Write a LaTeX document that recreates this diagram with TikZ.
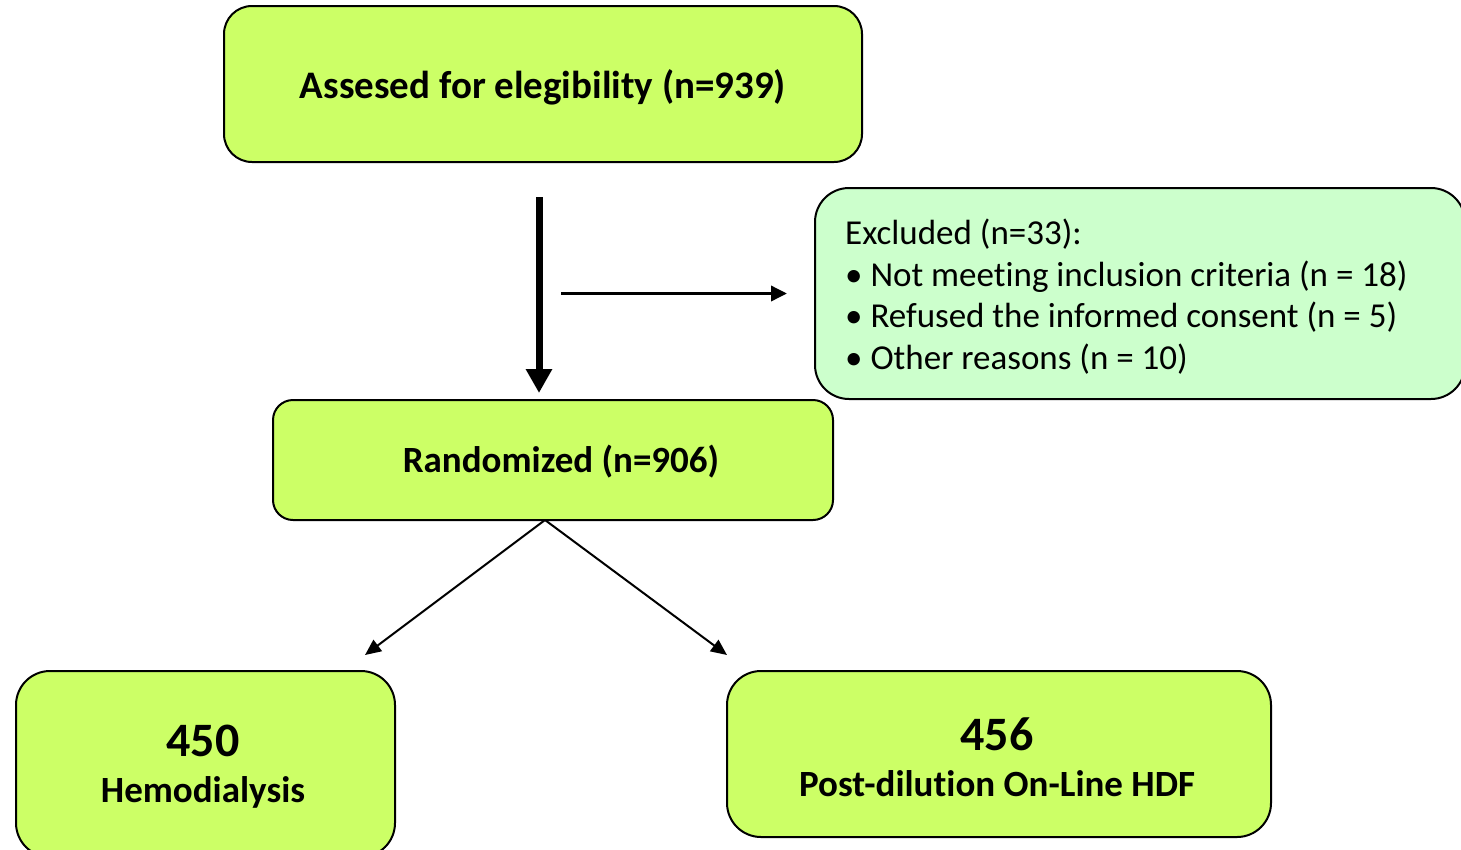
\documentclass[tikz,border=0pt]{standalone}
\usepackage{fontspec}
\setmainfont{Carlito}[RawFeature={-liga}]
\usetikzlibrary{arrows.meta}
\definecolor{limefill}{HTML}{CCFF66}
\definecolor{mintfill}{HTML}{CCFFCC}
\tikzset{
  box/.style={draw=black, line width=2pt, fill=limefill, inner sep=0pt},
  boxtext/.style={align=center, inner sep=0pt, font=\bfseries\fontsize{37}{46}\selectfont},
  exbox/.style={draw=black, line width=2pt, fill=mintfill, inner sep=0pt, rounded corners=34pt},
  thickarrow/.style={line width=7pt, -{Triangle[width=25pt,length=24pt]}},
  medarrow/.style={line width=3.5pt, -{Triangle[width=15pt,length=16pt]}},
  thinarrow/.style={line width=2pt, -{Triangle[width=14pt,length=16pt]}},
}
\begin{document}
\begin{tikzpicture}[x=1pt,y=-1pt]
\clip (0,0) rectangle (1461,849);
\useasboundingbox (0,0) rectangle (1461,849);
\fill[white] (0,0) rectangle (1461,849);

\node[box, rounded corners=28pt, minimum width=638pt, minimum height=156pt] (top) at (543,84) {};
\node[boxtext, font=\bfseries\fontsize{39}{46}\selectfont] (toptext) at (543,87) {Assesed for elegibility (n=939)};
\node[exbox, minimum width=650pt, minimum height=211pt] (excl) at (1140,293.5) {};
\node[anchor=west, align=left, inner sep=0pt, font=\fontsize{35}{41.7}\selectfont] (extext) at (845,296.5)
  {Excluded (n=33):\\ \textbullet\ Not meeting inclusion criteria (n = 18)\\ \textbullet\ Refused the informed consent (n = 5)\\ \textbullet\ Other reasons (n = 10)};
\node[box, rounded corners=20pt, minimum width=560pt, minimum height=120pt] (rand) at (553,460) {};
\node[boxtext] (randtext) at (561,462) {Randomized (n=906)};
\node[box, rounded corners=34pt, minimum width=379pt, minimum height=186pt] (hd) at (205.5,764) {};
\node[box, rounded corners=34pt, minimum width=544pt, minimum height=166pt] (hdf) at (999,754) {};
\node[boxtext] (hdtext) at (203,767)
  {{\fontsize{48}{46}\selectfont 450}\\Hemodialysis};
\node[boxtext] (hdftext) at (997,757)
  {{\fontsize{48}{46}\selectfont 456}\\Post-dilution On-Line HDF};

\coordinate (vtop) at (539,197);
\coordinate (vbot) at (539,393);
\coordinate (hstart) at (561,293.5);
\coordinate (apex) at (545,520);
\coordinate (lend) at (365,655);
\coordinate (rend) at (727,655);

\draw[thickarrow] (vtop) -- (vbot);
\draw[medarrow, shorten >=27pt] (hstart) -- (excl.west);
\draw[thinarrow] (apex) -- (lend);
\draw[thinarrow] (apex) -- (rend);
\end{tikzpicture}
\end{document}
